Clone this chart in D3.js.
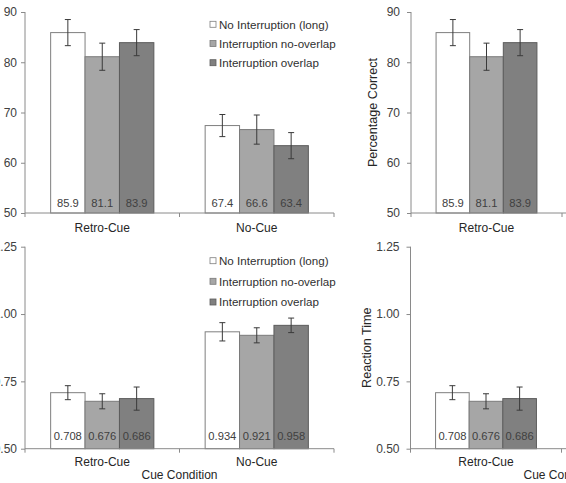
<!DOCTYPE html>
<html>
<head>
<meta charset="utf-8">
<script src="https://cdn.jsdelivr.net/npm/d3@7"></script>
<style>
  html, body { margin: 0; padding: 0; background: #fff; }
  svg { display: block; font-family: "Liberation Sans", Arial, sans-serif; }
</style>
</head>
<body>
<svg id="chart" width="566" height="483"></svg>
<script>
// ---------- data ----------
const categories = ["Retro-Cue", "No-Cue"];
const seriesNames = ["No Interruption (long)", "Interruption no-overlap", "Interruption overlap"];

// Percentage correct (per series, per category)
const pcNoInterruption = [85.9, 67.4];
const pcNoOverlap      = [81.1, 66.6];
const pcOverlap        = [83.9, 63.4];
const pcErrNoInterruption = [2.6, 2.2];
const pcErrNoOverlap      = [2.7, 2.9];
const pcErrOverlap        = [2.6, 2.6];
const pcTicks = [50, 60, 70, 80, 90];

// Reaction time (per series, per category)
const rtNoInterruption = [0.708, 0.934];
const rtNoOverlap      = [0.676, 0.921];
const rtOverlap        = [0.686, 0.958];
const rtErrNoInterruption = [0.026, 0.034];
const rtErrNoOverlap      = [0.028, 0.028];
const rtErrOverlap        = [0.043, 0.027];
const rtTicks = [0.50, 0.75, 1.00, 1.25];

const xAxisTitle = "Cue Condition";
const pcLabel = "Percentage Correct";
const rtLabel = "Reaction Time";

// ---------- styles ----------
const fills   = ["#ffffff", "#a6a6a6", "#808080"];
const strokes = ["#7f7f7f", "#7a7a7a", "#5c5c5c"];
const axisColor = "#8a8a8a";
const textColor = "#404040";

const svg = d3.select("#chart");

function drawPanel(cfg) {
  const g = svg.append("g").attr("transform", `translate(${cfg.x0},0)`);
  const x = d3.scaleBand().domain(categories).range([0, cfg.W]).paddingInner(0).paddingOuter(0);
  const bw = x.bandwidth();
  const pad = bw * 0.166;
  const xs = d3.scaleBand().domain(d3.range(seriesNames.length)).range([pad, bw - pad]).padding(0);
  const y = d3.scaleLinear().domain(cfg.domain).range([cfg.yBot, cfg.yTop]);

  const rows = [];
  cfg.values.forEach((vals, s) => {
    vals.forEach((v, c) => rows.push({ s, c: categories[c], v, e: cfg.errs[s][c] }));
  });

  // bars
  g.selectAll("rect.bar").data(rows).join("rect")
    .attr("class", "bar")
    .attr("x", d => x(d.c) + xs(d.s))
    .attr("y", d => y(d.v))
    .attr("width", xs.bandwidth())
    .attr("height", d => y(cfg.domain[0]) - y(d.v))
    .attr("fill", d => fills[d.s])
    .attr("stroke", d => strokes[d.s])
    .attr("stroke-width", 1);

  // error bars
  const eb = g.selectAll("g.err").data(rows).join("g").attr("class", "err")
    .attr("stroke", "#3a3a3a").attr("stroke-width", 1).attr("fill", "none");
  const cx = d => x(d.c) + xs(d.s) + xs.bandwidth() / 2;
  eb.append("line").attr("x1", cx).attr("x2", cx)
    .attr("y1", d => y(d.v + d.e)).attr("y2", d => y(d.v - d.e));
  eb.append("line").attr("x1", d => cx(d) - 3).attr("x2", d => cx(d) + 3)
    .attr("y1", d => y(d.v + d.e)).attr("y2", d => y(d.v + d.e));
  eb.append("line").attr("x1", d => cx(d) - 3).attr("x2", d => cx(d) + 3)
    .attr("y1", d => y(d.v - d.e)).attr("y2", d => y(d.v - d.e));

  // value labels
  g.selectAll("text.val").data(rows).join("text")
    .attr("class", "val")
    .attr("x", d => cx(d))
    .attr("y", y(cfg.domain[0]) - cfg.valDy)
    .attr("text-anchor", "middle")
    .attr("font-size", cfg.valSize)
    .attr("fill", textColor)
    .text(d => d.v.toFixed(cfg.decimals));

  // y axis
  const yAxis = d3.axisLeft(y).tickValues(cfg.ticks)
    .tickFormat(d => d.toFixed(cfg.tickDecimals))
    .tickSize(4).tickPadding(cfg.tickPad);
  const ya = g.append("g").call(yAxis);
  ya.select(".domain").attr("stroke", axisColor).attr("d", `M0,${cfg.yTop}V${cfg.yBot + 4}`);
  ya.selectAll(".tick line").attr("stroke", axisColor);
  ya.selectAll(".tick text").attr("fill", textColor).attr("font-size", 12)
    .attr("font-family", "Liberation Sans, Arial, sans-serif");

  // x axis
  const xa = g.append("g").attr("transform", `translate(0,${cfg.yBot})`);
  xa.append("line").attr("x1", 0).attr("x2", cfg.W).attr("y1", 0).attr("y2", 0).attr("stroke", axisColor);
  const bounds = categories.map(c => x(c) + bw);
  xa.selectAll("line.xt").data(bounds).join("line").attr("class", "xt")
    .attr("x1", d => d).attr("x2", d => d).attr("y1", 0).attr("y2", 4).attr("stroke", axisColor);
  xa.selectAll("text.cat").data(categories).join("text").attr("class", "cat")
    .attr("x", d => x(d) + bw / 2).attr("y", cfg.catDy)
    .attr("text-anchor", "middle").attr("font-size", 12).attr("fill", "#262626")
    .text(d => d);
  if (cfg.xTitle) {
    xa.append("text").attr("x", cfg.W / 2).attr("y", cfg.titleDy)
      .attr("text-anchor", "middle").attr("font-size", 12).attr("fill", "#262626")
      .text(xAxisTitle);
  }

  // y label (only where it falls inside the picture)
  if (cfg.showYLabel) {
    g.append("text")
      .attr("transform", `translate(${cfg.yLabelX},${(cfg.yTop + cfg.yBot) / 2}) rotate(-90)`)
      .attr("text-anchor", "middle").attr("font-size", 12.6).attr("fill", "#262626")
      .text(cfg.yLabel);
  }

  // legend (only where it falls inside the picture)
  if (cfg.showLegend) {
    const lg = g.append("g").attr("transform", `translate(${cfg.legendX},0)`);
    seriesNames.forEach((name, i) => {
      const ly = cfg.legendY[i];
      lg.append("rect").attr("x", 0).attr("y", ly - 3).attr("width", 6).attr("height", 6)
        .attr("fill", fills[i]).attr("stroke", strokes[i]).attr("stroke-width", 0.8);
      lg.append("text").attr("x", 9).attr("y", ly + 4.2)
        .attr("font-size", 11.6).attr("fill", "#303030").text(name);
    });
  }
}

const pcVals = [pcNoInterruption, pcNoOverlap, pcOverlap];
const pcErrs = [pcErrNoInterruption, pcErrNoOverlap, pcErrOverlap];
const rtVals = [rtNoInterruption, rtNoOverlap, rtOverlap];
const rtErrs = [rtErrNoInterruption, rtErrNoOverlap, rtErrOverlap];

const topBase = {
  yTop: 12, yBot: 213, domain: [50, 90], ticks: pcTicks, tickDecimals: 0,
  values: pcVals, errs: pcErrs, decimals: 1, valDy: 6.5, valSize: 11.2,
  catDy: 19, xTitle: false, yLabel: pcLabel, yLabelX: -34, legendY: [24.3, 43.5, 62.7]
};
const botBase = {
  yTop: 246.7, yBot: 448.7, domain: [0.5, 1.25], ticks: rtTicks, tickDecimals: 2,
  values: rtVals, errs: rtErrs, decimals: 3, valDy: 8.5, valSize: 11.2,
  catDy: 17.5, xTitle: true, titleDy: 30, yLabel: rtLabel, yLabelX: -40, legendY: [260.7, 281.3, 302]
};

// left copies
drawPanel(Object.assign({}, topBase, { x0: 25, W: 309, tickPad: 4, legendX: 185, showLegend: true, showYLabel: false }));
drawPanel(Object.assign({}, botBase, { x0: 25, W: 309, tickPad: 4, legendX: 185, showLegend: true, showYLabel: false }));
// right copies (shifted crop of the same figure)
drawPanel(Object.assign({}, topBase, { x0: 411, W: 302, tickPad: 7, legendX: 185, showLegend: false, showYLabel: true }));
drawPanel(Object.assign({}, botBase, { x0: 410.5, W: 302, tickPad: 7, legendX: 185, showLegend: false, showYLabel: true }));
</script>
</body>
</html>
